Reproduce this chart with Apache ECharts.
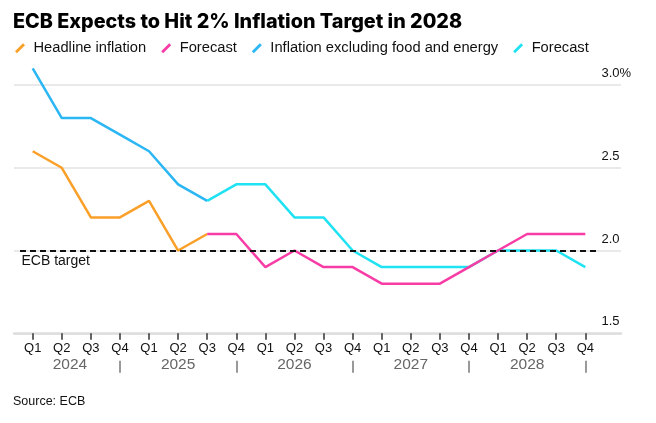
<!DOCTYPE html>
<html><head><meta charset="utf-8">
<script src="https://cdn.jsdelivr.net/npm/echarts@6.0.0/dist/echarts.min.js"></script>
<style>html,body{margin:0;padding:0;background:#fff}#c{width:656px;height:423px}</style>
</head><body><div id="c"></div>
<script>
const quarters = ['Q1', 'Q2', 'Q3', 'Q4'];
const years = ['2024', '2025', '2026', '2027', '2028'];
const headline = [2.6, 2.5, 2.2, 2.2, 2.3, 2.0, 2.1, null, null, null, null, null, null, null, null, null, null, null, null, null];
const headlineForecast = [null, null, null, null, null, null, 2.1, 2.1, 1.9, 2.0, 1.9, 1.9, 1.8, 1.8, 1.8, 1.9, 2.0, 2.1, 2.1, 2.1];
const core = [3.1, 2.8, 2.8, 2.7, 2.6, 2.4, 2.3, null, null, null, null, null, null, null, null, null, null, null, null, null];
const coreForecast = [null, null, null, null, null, null, 2.3, 2.4, 2.4, 2.2, 2.2, 2.0, 1.9, 1.9, 1.9, 1.9, 2.0, 2.0, 2.0, 1.9];
const target = 2.0;
const targetLabel = 'ECB target';
const yTicks = [1.5, 2.0, 2.5, 3.0];
const yTickLabels = ['1.5', '2.0', '2.5', '3.0%'];
const seriesNames = ['Headline inflation', 'Headline forecast', 'Inflation excluding food and energy', 'Core forecast'];
const legendLabels = ['Headline inflation', 'Forecast', 'Inflation excluding food and energy', 'Forecast'];
const titleText = 'ECB Expects to Hit 2% Inflation Target in 2028';
const sourceText = 'Source: ECB';

const categories = years.flatMap(y => quarters.map(q => q + ' ' + y));
const FF = '"Liberation Sans", Arial, sans-serif';
const colors = ['#FA9F28', '#F83CA6', '#2BB6F4', '#1FE2F2'];

const chart = echarts.init(document.getElementById('c'), null, {renderer: 'canvas'});

function lineSeries(name, data, color) {
  return {
    name, type: 'line', xAxisIndex: 1, yAxisIndex: 1, data, color,
    symbol: 'none', clip: false, connectNulls: false, animation: false,
    lineStyle: {width: 2.5, color},
    emphasis: {disabled: true}
  };
}

const option = {
  animation: false,
  title: [
    {text: titleText, left: 13, top: 11.8, padding: 0,
     textStyle: {fontFamily: 'Inter, "Liberation Sans", sans-serif', fontWeight: 800, fontSize: 19.8, color: '#000'}},
    {text: sourceText, left: 13, top: 395, padding: 0,
     textStyle: {fontFamily: FF, fontWeight: 'normal', fontSize: 12.5, color: '#111'}}
  ],
  legend: {
    left: 15, top: 40.8, padding: 0, itemWidth: 17, itemHeight: 10, itemGap: 15,
    icon: 'path://M0,8 L8,0 L10,2 L2,10 Z',
    selectedMode: false,
    data: seriesNames,
    formatter: n => legendLabels[seriesNames.indexOf(n)],
    textStyle: {fontFamily: FF, fontSize: 14.7, color: '#111'}
  },
  grid: [
    {left: 14, right: 35, top: 85, bottom: 89.7, outerBoundsMode: 'none'},
    {left: 32.7, right: 70.7, top: 85, bottom: 89.7, outerBoundsMode: 'none'}
  ],
  xAxis: [
    {gridIndex: 0, type: 'value', min: 0, max: 1,
     axisLine: {show: true, onZero: false, lineStyle: {color: '#dedede', width: 2.5}},
     axisTick: {show: false}, axisLabel: {show: false}, splitLine: {show: false}},
    {gridIndex: 1, type: 'category', data: categories, boundaryGap: false, position: 'bottom',
     axisLine: {show: false, onZero: false},
     axisTick: {show: true, interval: 0, length: 6.5, lineStyle: {color: '#333', width: 1.5}},
     axisLabel: {interval: 0, formatter: v => v.split(' ')[0], fontFamily: FF, fontSize: 13, color: '#111',
                 margin: 15.4, verticalAlign: 'middle'},
     splitLine: {show: false}},
    {gridIndex: 1, type: 'category', data: categories, boundaryGap: false, position: 'bottom', offset: 27.4,
     axisLine: {show: false, onZero: false},
     axisTick: {show: true, interval: i => i % 4 === 3, length: 12, lineStyle: {color: '#999', width: 2}},
     axisLabel: {interval: i => i % 4 === 1,
                 formatter: (v, i) => (i === 1 ? '{first|' + v.split(' ')[1] + '}' : v.split(' ')[1]),
                 rich: {first: {padding: [0, 0, 0, 16.4], fontFamily: FF, fontSize: 15.5, color: '#666'}},
                 fontFamily: FF, fontSize: 15.5, color: '#666', margin: 4.5, verticalAlign: 'middle'},
     splitLine: {show: false}}
  ],
  yAxis: [
    {gridIndex: 0, type: 'value', min: 1.5, max: 3.0, interval: 0.5, position: 'right',
     axisLine: {show: false}, axisTick: {show: false},
     splitLine: {show: true, lineStyle: {color: '#e2e2e2', width: 1.5}},
     axisLabel: {formatter: v => yTickLabels[yTicks.findIndex(t => Math.abs(t - v) < 1e-6)],
                 margin: -19.5, align: 'left', verticalAlign: 'bottom', lineHeight: 14, padding: [0, 0, 4.5, 0],
                 fontFamily: FF, fontSize: 13, color: '#111'}},
    {gridIndex: 1, type: 'value', min: 1.5, max: 3.0, interval: 0.5, show: false}
  ],
  series: [
    lineSeries(seriesNames[2], core, colors[2]),
    lineSeries(seriesNames[3], coreForecast, colors[3]),
    lineSeries(seriesNames[0], headline, colors[0]),
    lineSeries(seriesNames[1], headlineForecast, colors[1]),
    {
      name: 'target', type: 'line', xAxisIndex: 0, yAxisIndex: 0, data: [[0.5, target]],
      symbol: 'none', lineStyle: {opacity: 0}, silent: true, z: 5, animation: false,
      markLine: {
        silent: true, animation: false, symbol: ['none', 'none'],
        lineStyle: {color: '#111', type: [6, 4], width: 2},
        emphasis: {disabled: true},
        label: {show: true, formatter: targetLabel, position: 'insideStartBottom', distance: [1.5, 3.5],
                fontFamily: FF, fontSize: 14, color: '#111'},
        data: [[{coord: [0.0099, target]}, {coord: [0.959, target]}]]
      }
    }
  ]
};
chart.setOption(option);
</script>
</body></html>
